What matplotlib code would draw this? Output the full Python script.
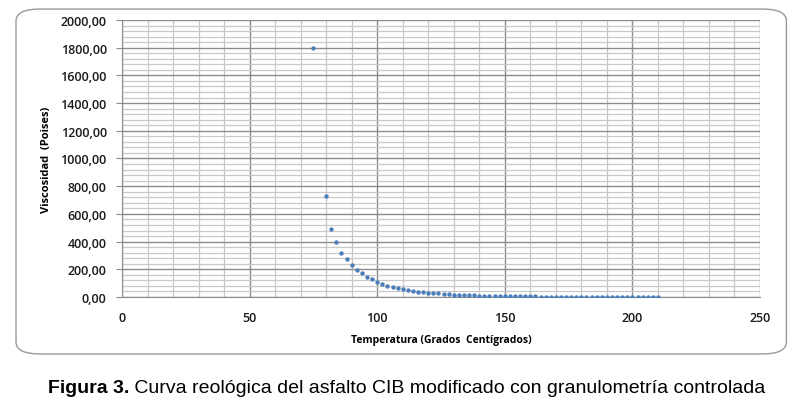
import matplotlib
matplotlib.use("Agg")
import matplotlib.pyplot as plt
from matplotlib.ticker import MultipleLocator, FuncFormatter
from matplotlib.patches import FancyBboxPatch

temp = [75, 80, 82, 84, 86, 88, 90, 92, 94, 96, 98, 100, 102, 104, 106, 108,
        110, 112, 114, 116, 118, 120, 122, 124, 126, 128, 130, 132, 134, 136,
        138, 140, 142, 144, 146, 148, 150, 152, 154, 156, 158, 160, 162, 164,
        166, 168, 170, 172, 174, 176, 178, 180, 182, 184, 186, 188, 190, 192,
        194, 196, 198, 200, 202, 204, 206, 208, 210]
visc = [1795, 732, 494, 395, 316, 275, 229, 195, 171, 147, 128, 106, 94, 82,
        70, 63, 58, 48, 43, 39, 34, 31, 29, 26, 22, 19, 17, 15, 13, 12, 11,
        10, 9, 8, 7.5, 7, 6.5, 6, 5.5, 5, 4.6, 4.2, 3.9, 3.6, 3.3, 3.0, 2.8,
        2.6, 2.4, 2.2, 2.1, 2.0, 1.9, 1.8, 1.7, 1.6, 1.5, 1.4, 1.3, 1.3, 1.2,
        1.2, 1.1, 1.1, 1.0, 1.0, 1.0]

xlabel = "Temperatura (Grados  Centígrados)"
ylabel = "Viscosidad  (Poises)"
cap_bold = "Figura 3."
cap_text = " Curva reológica del asfalto CIB modificado con granulometría controlada"

fig = plt.figure(figsize=(8, 4.02), dpi=100)
ax = fig.add_axes([0.1525, 0.2587, 0.7975, 0.6891])

# rounded chart frame
frame = FancyBboxPatch((0.02, 0.117), 0.963, 0.858, boxstyle="round,pad=0,rounding_size=0.03",
                       transform=fig.transFigure, facecolor="white", edgecolor="#9a9a9a",
                       linewidth=1.0, zorder=-10)
fig.patches.append(frame)

ax.scatter(temp, visc, s=10, color="#4a7ebb", zorder=5, linewidths=0)

ax.set_xlim(0, 250)
ax.set_ylim(0, 2000)
ax.xaxis.set_major_locator(MultipleLocator(50))
ax.xaxis.set_minor_locator(MultipleLocator(10))
ax.yaxis.set_major_locator(MultipleLocator(200))
ax.yaxis.set_minor_locator(MultipleLocator(40))
ax.yaxis.set_major_formatter(FuncFormatter(lambda v, p: ("%.2f" % v).replace(".", ",")))

ax.grid(which="major", color="#8c8c8c", linewidth=1.0)
ax.grid(which="minor", color="#c8c8c8", linewidth=0.9)
ax.set_axisbelow(True)

for s in ["top", "right"]:
    ax.spines[s].set_visible(False)
ax.spines["left"].set_color("#8c8c8c")
ax.spines["bottom"].set_color("#8c8c8c")
ax.tick_params(which="major", length=4, color="#8c8c8c", labelsize=9, pad=7)
ax.tick_params(axis="x", which="major", direction="out", length=0, pad=10)
ax.tick_params(which="minor", length=0)
for lab in ax.get_xticklabels() + ax.get_yticklabels():
    lab.set_fontfamily("Open Sans")
    lab.set_fontweight("semibold")
    lab.set_color("#1a1a1a")

ax.set_xlabel(xlabel, fontsize=7.5, fontweight="bold", family="Open Sans")
ax.set_ylabel(ylabel, fontsize=8, fontweight="bold", family="Open Sans")
ax.xaxis.set_label_coords(0.50, -0.135)
ax.yaxis.set_label_coords(-0.11, 0.5)

# caption: bold part then normal part right after it
t1 = fig.text(0.06, 0.022, cap_bold, fontsize=14, fontweight="bold", family="Liberation Sans")
fig.canvas.draw()
bb = t1.get_window_extent(fig.canvas.get_renderer())
fig.text(bb.x1 / fig.bbox.width, 0.022, cap_text, fontsize=14, family="Liberation Sans")

fig.savefig("out.png", dpi=100)
